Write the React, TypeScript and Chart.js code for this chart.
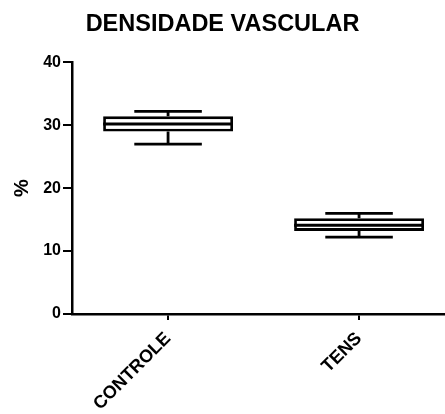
import React, { useEffect, useRef } from "react";
import { Chart, registerables } from "chart.js";

Chart.register(...registerables);

const categories = ["CONTROLE", "TENS"];
const whiskerMin = [27.0, 12.2];
const quartile1 = [29.0, 13.2];
const medians = [30.2, 14.1];
const quartile3 = [31.4, 15.2];
const whiskerMax = [32.2, 16.0];
const yTicks = [0, 10, 20, 30, 40];

const FONT = "'Liberation Sans', Arial, Helvetica, sans-serif";

const boxPlugin = {
  id: "boxWhiskers",
  afterDatasetsDraw(chart: any) {
    const ctx = chart.ctx;
    const xs = chart.scales.x;
    const ys = chart.scales.y;
    const meta = chart.getDatasetMeta(0);
    ctx.save();
    ctx.strokeStyle = "#000";
    ctx.lineCap = "butt";
    categories.forEach((_, i) => {
      const el = meta.data[i];
      const half = el ? el.width / 2 : 60;
      const x = xs.getPixelForValue(i);
      const cap = half * 0.52;
      const yMin = ys.getPixelForValue(whiskerMin[i]);
      const yMax = ys.getPixelForValue(whiskerMax[i]);
      const yQ1 = ys.getPixelForValue(quartile1[i]);
      const yQ3 = ys.getPixelForValue(quartile3[i]);
      const yMed = ys.getPixelForValue(medians[i]);
      ctx.lineWidth = 2.8;
      ctx.beginPath();
      ctx.moveTo(x, yQ3);
      ctx.lineTo(x, yMax);
      ctx.moveTo(x - cap, yMax);
      ctx.lineTo(x + cap, yMax);
      ctx.moveTo(x, yQ1);
      ctx.lineTo(x, yMin);
      ctx.moveTo(x - cap, yMin);
      ctx.lineTo(x + cap, yMin);
      ctx.stroke();
      ctx.lineWidth = 3;
      ctx.beginPath();
      ctx.moveTo(x - half, yMed);
      ctx.lineTo(x + half, yMed);
      ctx.stroke();
    });
    ctx.restore();
  },
};

export default function App() {
  const ref = useRef<HTMLCanvasElement>(null);
  useEffect(() => {
    document.body.style.margin = "0";
    document.body.style.overflow = "hidden";
    const chart = new Chart(ref.current as HTMLCanvasElement, {
      type: "bar",
      data: {
        datasets: [
          {
            data: categories.map((_, i) => ({ x: i, y: [quartile1[i], quartile3[i]] })) as any,
            backgroundColor: "#ffffff",
            borderColor: "#000000",
            borderWidth: 2.8,
            borderSkipped: false,
            barPercentage: 0.68,
            categoryPercentage: 1,
          },
        ],
      },
      options: {
        responsive: false,
        animation: false,
        layout: { padding: { left: 0, right: 0, top: 0, bottom: 0 } },
        plugins: {
          legend: { display: false },
          tooltip: { enabled: false },
          title: {
            display: true,
            text: "DENSIDADE VASCULAR",
            color: "#000",
            font: { family: FONT, size: 23.5, weight: "bold" },
            padding: { top: 10, bottom: 24 },
          },
        },
        scales: {
          x: {
            type: "linear",
            offset: false,
            min: -0.503,
            max: 1.45,
            afterBuildTicks: (scale: any) => {
              scale.ticks = categories.map((_, i) => ({ value: i }));
            },
            afterFit: (scale: any) => {
              scale.height = 100;
            },
            ticks: {
              color: "#000",
              font: { family: FONT, size: 18, weight: "bold" },
              minRotation: 45,
              maxRotation: 45,
              padding: 8,
              autoSkip: false,
              callback: (v: any) => categories[Number(v)] ?? "",
            },
            grid: {
              offset: false,
              drawOnChartArea: false,
              drawTicks: true,
              tickLength: 6,
              color: "#000",
              lineWidth: 2,
            },
            border: { display: true, color: "#000", width: 2.5 },
          },
          y: {
            min: 0,
            max: 40,
            afterBuildTicks: (scale: any) => {
              scale.ticks = yTicks.map((v) => ({ value: v }));
            },
            afterFit: (scale: any) => {
              scale.width = 72;
            },
            ticks: {
              color: "#000",
              font: { family: FONT, size: 16, weight: "bold" },
              padding: 2,
            },
            grid: {
              drawOnChartArea: false,
              drawTicks: true,
              tickLength: 9,
              color: "#000",
              lineWidth: 2,
            },
            border: { display: true, color: "#000", width: 2.5 },
            title: {
              display: true,
              text: "%",
              color: "#000",
              font: { family: FONT, size: 20, weight: "bold" },
              padding: { top: 10, bottom: 0 },
            },
          },
        },
      },
      plugins: [boxPlugin],
    });
    return () => chart.destroy();
  }, []);
  return (
    <div style={{ width: 445, height: 414 }}>
      <canvas ref={ref} width={445} height={414} />
    </div>
  );
}
